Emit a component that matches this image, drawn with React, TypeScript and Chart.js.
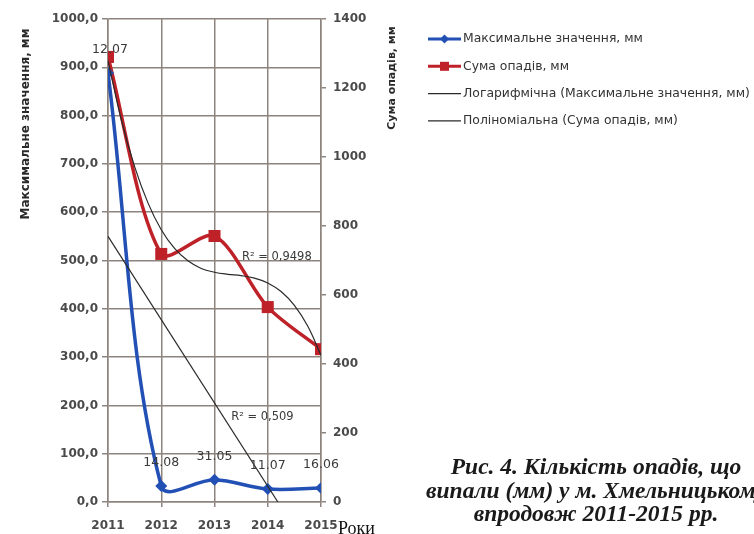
import React, { useEffect, useRef } from "react";
import { Chart, registerables } from "chart.js";

Chart.register(...registerables);

// ---- data ----
const years = [2011, 2012, 2013, 2014, 2015];
const maxValues = [888, 33, 46, 27, 29]; // Максимальне значення, мм (left axis)
const dateLabels = ["12.07", "14.08", "31.05", "11.07", "16.06"];
const sumValues = [1290, 719, 771, 565, 443]; // Сума опадів, мм (right axis)

// trend line (straight line, left axis)
const trend1X = [2011, 2014.19];
const trend1Y = [550, 0];
// polynomial trend (right axis)
const trend2X = [2011, 2011.25, 2011.5, 2011.75, 2012, 2012.25, 2012.5, 2012.75, 2013, 2013.25, 2013.5, 2013.75, 2014, 2014.25, 2014.5, 2014.75, 2015];
const trend2Y = [1279, 1108, 972, 867, 789, 735, 699, 677, 666, 660, 656, 649, 635, 610, 570, 510, 425];

const r2Texts = ["R² = 0,9498", "R² = 0,509"];
const r2Anchors = [
  { x: 2014.17, y: 710, axis: "y1" },
  { x: 2013.9, y: 176, axis: "y" },
];

const legendLabels = [
  "Максимальне значення, мм",
  "Сума опадів, мм",
  "Логарифмічна (Максимальне значення, мм)",
  "Поліноміальна (Сума опадів, мм)",
];
const leftTitle = "Максимальне значення, мм";
const rightTitle = "Сума опадів, мм";
const xUnit = "Роки";
const captionLines = [
  "Рис. 4. Кількість опадів, що",
  "випали (мм) у м. Хмельницькому",
  "впродовж 2011-2015 рр.",
];

const BLUE = "#2250b5";
const RED = "#be2128";
const GRID = "#8e847e";
const TEXT = "#4a4a4a";
const TREND = "#2a2a2a";

const overlayPlugin = {
  id: "overlay",
  afterDatasetsDraw(chart: any) {
    const ctx = chart.ctx;
    const xs = chart.scales.x;
    ctx.save();
    // data labels for blue series
    const meta = chart.getDatasetMeta(0);
    ctx.font = "12.5px 'DejaVu Sans'";
    ctx.fillStyle = "#3a3a3a";
    ctx.textAlign = "center";
    ctx.textBaseline = "middle";
    meta.data.forEach((pt: any, i: number) => {
      ctx.fillText(dateLabels[i], pt.x + (i === 0 ? 2 : 0), pt.y - 23);
    });
    // R² labels
    ctx.font = "11.5px 'DejaVu Sans'";
    r2Anchors.forEach((a, i) => {
      const px = xs.getPixelForValue(a.x);
      const py = chart.scales[a.axis].getPixelForValue(a.y);
      ctx.fillText(r2Texts[i], px, py);
    });
    ctx.restore();
  },
  afterDraw(chart: any) {
    const ctx = chart.ctx;
    const area = chart.chartArea;
    ctx.save();
    // axis titles
    ctx.fillStyle = "#2a2a2a";
    ctx.textAlign = "center";
    ctx.textBaseline = "middle";
    ctx.save();
    ctx.font = "bold 12px 'DejaVu Sans'";
    ctx.translate(26, 124);
    ctx.rotate(-Math.PI / 2);
    ctx.fillText(leftTitle, 0, 0);
    ctx.restore();
    ctx.save();
    ctx.font = "bold 11px 'DejaVu Sans'";
    ctx.translate(392, 78);
    ctx.rotate(-Math.PI / 2);
    ctx.fillText(rightTitle, 0, 0);
    ctx.restore();

    // x unit
    ctx.font = "18px 'Liberation Serif'";
    ctx.textAlign = "left";
    ctx.textBaseline = "alphabetic";
    ctx.fillStyle = "#111";
    ctx.fillText(xUnit, area.right + 17, 534);

    // legend
    const lx0 = 428, lx1 = 461, ly0 = 39, lstep = 27.3;
    const styles = [
      { color: BLUE, w: 3, marker: "diamond" },
      { color: RED, w: 3, marker: "square" },
      { color: TREND, w: 1.2, marker: "" },
      { color: TREND, w: 1.2, marker: "" },
    ];
    ctx.font = "12.4px 'DejaVu Sans'";
    ctx.textBaseline = "middle";
    legendLabels.forEach((lab, i) => {
      const y = ly0 + i * lstep;
      const s = styles[i];
      ctx.strokeStyle = s.color;
      ctx.lineWidth = s.w;
      ctx.beginPath();
      ctx.moveTo(lx0, y);
      ctx.lineTo(lx1, y);
      ctx.stroke();
      const cx = (lx0 + lx1) / 2;
      ctx.fillStyle = s.color;
      if (s.marker === "diamond") {
        ctx.beginPath();
        ctx.moveTo(cx, y - 4.5);
        ctx.lineTo(cx + 4.5, y);
        ctx.lineTo(cx, y + 4.5);
        ctx.lineTo(cx - 4.5, y);
        ctx.closePath();
        ctx.fill();
      } else if (s.marker === "square") {
        ctx.fillRect(cx - 4.5, y - 4.5, 9, 9);
      }
      ctx.fillStyle = "#333";
      ctx.textAlign = "left";
      ctx.fillText(lab, lx1 + 2, y);
    });

    // caption
    ctx.fillStyle = "#1a1a1a";
    ctx.font = "italic bold 23.5px 'Liberation Serif'";
    ctx.textAlign = "center";
    ctx.textBaseline = "alphabetic";
    const cBase = [474, 498, 521];
    captionLines.forEach((line, i) => {
      ctx.fillText(line, 596, cBase[i]);
    });
    ctx.restore();
  },
};

export default function App() {
  const ref = useRef<HTMLCanvasElement | null>(null);
  useEffect(() => {
    if (!ref.current) return;
    const chart = new Chart(ref.current, {
      type: "line",
      data: {
        datasets: [
          {
            label: legendLabels[0],
            data: years.map((x, i) => ({ x, y: maxValues[i] })),
            borderColor: BLUE,
            backgroundColor: BLUE,
            borderWidth: 3.5,
            pointStyle: "rectRot",
            pointRadius: 6,
            pointBorderWidth: 0,
            tension: 0.35,
            yAxisID: "y",
            order: 1,
          },
          {
            label: legendLabels[1],
            data: years.map((x, i) => ({ x, y: sumValues[i] })),
            borderColor: RED,
            backgroundColor: RED,
            borderWidth: 3.5,
            pointStyle: "rect",
            pointRadius: 8.5,
            pointBorderWidth: 0,
            tension: 0.3,
            yAxisID: "y1",
            order: 2,
          },
          {
            label: legendLabels[2],
            data: trend1X.map((x, i) => ({ x, y: trend1Y[i] })),
            borderColor: TREND,
            borderWidth: 1.2,
            pointRadius: 0,
            tension: 0,
            yAxisID: "y",
            order: 0,
          },
          {
            label: legendLabels[3],
            data: trend2X.map((x, i) => ({ x, y: trend2Y[i] })),
            borderColor: TREND,
            borderWidth: 1.2,
            pointRadius: 0,
            tension: 0.4,
            yAxisID: "y1",
            order: 0,
          },
        ],
      },
      options: {
        responsive: false,
        animation: false,
        layout: { padding: { top: 19, left: 0, right: 0, bottom: 0 } },
        plugins: { legend: { display: false }, tooltip: { enabled: false } },
        scales: {
          x: {
            type: "linear",
            min: 2011,
            max: 2015,
            afterFit: (s: any) => { s.height = 32; },
            ticks: {
              stepSize: 1,
              callback: (v: any) => String(v),
              font: { family: "'DejaVu Sans'", size: 12, weight: "bold" },
              color: TEXT,
              padding: 12,
            },
            grid: { color: GRID, lineWidth: 1.5, tickLength: 5 },
            border: { color: GRID, width: 1.5 },
          },
          y: {
            position: "left",
            min: 0,
            max: 1000,
            afterFit: (s: any) => { s.width = 108; },
            ticks: {
              stepSize: 100,
              callback: (v: any) => Number(v).toFixed(1).replace(".", ","),
              font: { family: "'DejaVu Sans'", size: 12, weight: "bold" },
              color: TEXT,
              padding: 4,
            },
            grid: { color: GRID, lineWidth: 1.5, tickLength: 6 },
            border: { color: GRID, width: 1.5 },
          },
          y1: {
            position: "right",
            min: 0,
            max: 1400,
            afterFit: (s: any) => { s.width = 433; },
            ticks: {
              stepSize: 200,
              callback: (v: any) => String(v),
              font: { family: "'DejaVu Sans'", size: 12, weight: "bold" },
              color: TEXT,
              padding: 7,
            },
            grid: { drawOnChartArea: false, color: GRID, lineWidth: 1.5, tickLength: 5 },
            border: { color: GRID, width: 1.5 },
          },
        },
      },
      plugins: [overlayPlugin],
    } as any);
    return () => chart.destroy();
  }, []);
  return (
    <div style={{ position: "fixed", left: 0, top: 0, width: 754, height: 534, background: "#fff" }}>
      <canvas ref={ref} width={754} height={534} style={{ display: "block" }} />
    </div>
  );
}
